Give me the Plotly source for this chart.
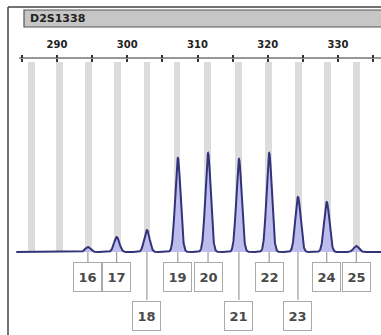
import numpy as np
import plotly.graph_objects as go

# ---- data ----
locus = "D2S1338"
alleles = ["16", "17", "18", "19", "20", "21", "22", "23", "24", "25"]
peak_bp = [294.4, 298.5, 302.8, 307.2, 311.5, 315.9, 320.2, 324.3, 328.4, 332.6]
peak_rfu = [50, 150, 220, 940, 990, 930, 990, 550, 500, 60]
label_row = [1, 1, 2, 1, 1, 2, 1, 2, 1, 1]
bin_bp = [286.4, 290.4, 294.5, 298.6, 302.8, 307.1, 311.4, 315.8, 320.1, 324.4, 328.5, 332.6]
tick_bp = [285, 290, 295, 300, 305, 310, 315, 320, 325, 330, 335]
tick_text = ["", "290", "", "300", "", "310", "", "320", "", "330", ""]

# ---- layout constants ----
W, H = 381, 335
PX_PER_BP = 7.025
X_REF_BP, X_REF_PX = 290, 57
RFU_PER_PX = 10
BASE_PX = 252

x0 = X_REF_BP - X_REF_PX / PX_PER_BP
x1 = X_REF_BP + (W - X_REF_PX) / PX_PER_BP
y_top = BASE_PX * RFU_PER_PX
y_bot = -(H - BASE_PX) * RFU_PER_PX

def ypx(py):
    return (BASE_PX - py) * RFU_PER_PX

def xp(px):
    return px / W

def yp(py):
    return 1 - py / H

sigma = 0.38
xs = np.arange(284.2, x1 + 0.1, 0.02)
ys = np.zeros_like(xs)
for b, h in zip(peak_bp, peak_rfu):
    ys += h * np.exp(-0.5 * ((xs - b) / sigma) ** 2)

fig = go.Figure()
# bins
fig.add_trace(go.Bar(x=bin_bp, y=[ypx(62)] * len(bin_bp), width=0.95,
                     marker=dict(color="#dcdcdc", line=dict(width=0)),
                     hoverinfo="skip", showlegend=False))
# trace
fig.add_trace(go.Scatter(x=xs, y=ys, mode="lines", fill="tozeroy",
                         fillcolor="rgba(185,185,238,0.9)",
                         line=dict(color="#33337a", width=2),
                         hoverinfo="skip", showlegend=False))

shapes = []
annotations = []
# frame
shapes.append(dict(type="line", xref="paper", yref="paper", x0=xp(8), x1=xp(8),
                   y0=yp(7), y1=0, line=dict(color="#444", width=1.5)))
shapes.append(dict(type="line", xref="paper", yref="paper", x0=xp(8), x1=1,
                   y0=yp(7), y1=yp(7), line=dict(color="#444", width=1.5)))
# title bar
shapes.append(dict(type="rect", xref="paper", yref="paper", x0=xp(24), x1=1.01,
                   y0=yp(27), y1=yp(10), fillcolor="#c6c6c6",
                   line=dict(color="#555", width=1.2)))
annotations.append(dict(text="<b>" + locus + "</b>", xref="paper", yref="paper",
                        x=xp(28), y=yp(18.5), xanchor="left", yanchor="middle",
                        showarrow=False, font=dict(family="DejaVu Sans", size=11, color="#222")))
# axis line
shapes.append(dict(type="line", xref="x", yref="y", x0=284.6, x1=x1 + 1,
                   y0=ypx(58), y1=ypx(58), line=dict(color="#333", width=1.2)))

# labels
row_center = {1: ypx(277), 2: ypx(316)}
row_top = {1: ypx(263), 2: ypx(300)}
for a, b, r in zip(alleles, peak_bp, label_row):
    shapes.append(dict(type="line", xref="x", yref="y", x0=b, x1=b, y0=0, y1=row_top[r],
                       line=dict(color="#888", width=1)))
    annotations.append(dict(text="<b>" + a + "</b>", x=b, y=row_center[r], xref="x", yref="y",
                            showarrow=False, width=25, height=26, borderpad=1,
                            bgcolor="white", bordercolor="#aaa", borderwidth=1,
                            font=dict(family="DejaVu Sans", size=13, color="#4a4a4a")))

axis_pos = 1 - 58 / H
common = dict(range=[x0, x1], tickvals=tick_bp, showgrid=False, zeroline=False,
              showline=False, tickcolor="#333", tickwidth=1.5, ticklen=3)
fig.update_layout(
    width=W, height=H, margin=dict(l=0, r=0, t=0, b=0),
    paper_bgcolor="white", plot_bgcolor="white",
    bargap=0,
    xaxis=dict(**common, anchor="free", position=axis_pos, side="top", ticks="outside",
               ticktext=tick_text, ticklabelstandoff=3,
               tickfont=dict(family="DejaVu Sans", size=10, color="#222", weight="bold")),
    xaxis2=dict(**common, overlaying="x", matches="x", anchor="free", position=axis_pos,
                side="top", ticks="inside", showticklabels=False),
    yaxis=dict(range=[y_bot, y_top], visible=False),
    shapes=shapes, annotations=annotations,
)
fig.add_trace(go.Scatter(x=[x0], y=[y_bot], xaxis="x2", mode="markers",
                         marker=dict(opacity=0), hoverinfo="skip", showlegend=False))
fig.write_html("out.html")
